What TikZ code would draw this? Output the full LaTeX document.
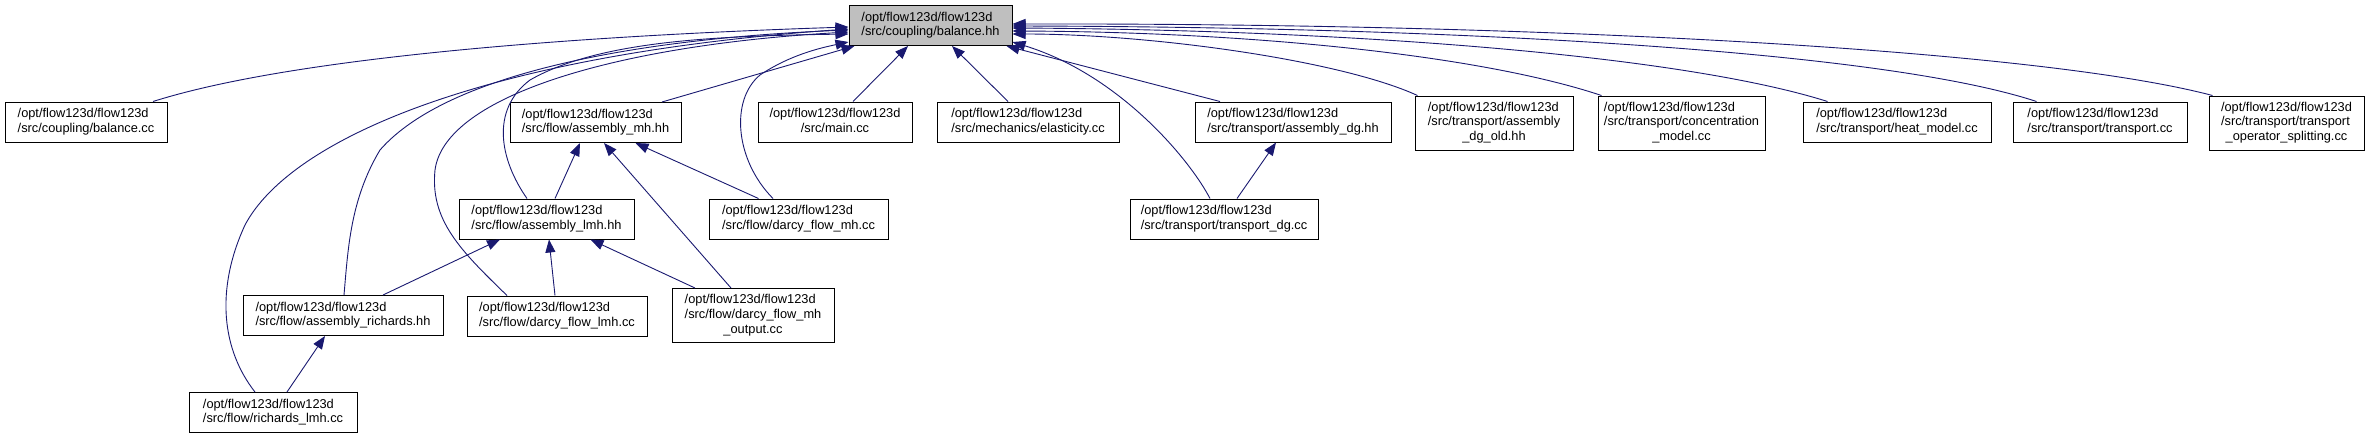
\documentclass[tikz,border=0pt]{standalone}
\usepackage{fontspec}
\setmainfont{Liberation Sans}
\usetikzlibrary{arrows.meta,calc}
\definecolor{edgeblue}{HTML}{191970}
\definecolor{focusgray}{HTML}{BFBFBF}
\newcommand{\flabii}[2]{\begin{tabular}{@{}l@{}}#1\\\multicolumn{1}{@{}c@{}}{#2}\end{tabular}}
\newcommand{\flabiii}[3]{\begin{tabular}{@{}l@{}}#1\\#2\\\multicolumn{1}{@{}c@{}}{#3}\end{tabular}}
\newcommand{\fp}{/opt/flow123d/flow123d}
\begin{document}
\begin{tikzpicture}[x=1pt,y=-1pt,
  filebox/.style={draw=black, line width=1pt, fill=white, inner sep=0pt,
    font=\fontsize{12.8}{14.6}\selectfont, minimum height=40pt},
  tallbox/.style={filebox, minimum height=54pt},
  dep/.style={draw=edgeblue, line width=0.9pt, -{Triangle[length=13pt,width=10pt]}}]
\useasboundingbox (0,0) rectangle (2369,439);
% nodes
\node[filebox, fill=focusgray, minimum width=163] (bhh) at (930.5,25.5) {\flabii{\fp}{/src/coupling/balance.hh}};
\node[filebox, minimum width=162] (bcc) at (86,122) {\flabii{\fp}{/src/coupling/balance.cc}};
\node[filebox, minimum width=171] (amh) at (595.5,122.5) {\flabii{\fp}{/src/flow/assembly\_mh.hh}};
\node[filebox, minimum width=154] (main) at (835,122) {\flabii{\fp}{/src/main.cc}};
\node[filebox, minimum width=182] (elas) at (1028,122) {\flabii{\fp}{/src/mechanics/elasticity.cc}};
\node[filebox, minimum width=196] (adg) at (1293,122) {\flabii{\fp}{/src/transport/assembly\_dg.hh}};
\node[tallbox, minimum width=158] (dgold) at (1494,123) {\flabiii{\fp}{/src/transport/assembly}{\_dg\_old.hh}};
\node[tallbox, minimum width=167] (conc) at (1681.5,123) {\flabiii{\fp}{/src/transport/concentration}{\_model.cc}};
\node[filebox, minimum width=188] (heat) at (1897,122) {\flabii{\fp}{/src/transport/heat\_model.cc}};
\node[filebox, minimum width=174] (trans) at (2100,122) {\flabii{\fp}{/src/transport/transport.cc}};
\node[tallbox, minimum width=155] (tos) at (2286.5,123) {\flabiii{\fp}{/src/transport/transport}{\_operator\_splitting.cc}};
\node[filebox, minimum width=175] (almh) at (546.5,219) {\flabii{\fp}{/src/flow/assembly\_lmh.hh}};
\node[filebox, minimum width=179] (dfmh) at (798.5,219) {\flabii{\fp}{/src/flow/darcy\_flow\_mh.cc}};
\node[filebox, minimum width=188] (tdg) at (1224,219) {\flabii{\fp}{/src/transport/transport\_dg.cc}};
\node[filebox, minimum width=200] (arich) at (343,315.5) {\flabii{\fp}{/src/flow/assembly\_richards.hh}};
\node[filebox, minimum width=180] (dflmh) at (557,316) {\flabii{\fp}{/src/flow/darcy\_flow\_lmh.cc}};
\node[tallbox, minimum width=162] (dfmho) at (753,315.5) {\flabiii{\fp}{/src/flow/darcy\_flow\_mh}{\_output.cc}};
\node[filebox, minimum width=168] (rlmh) at (273,412.5) {\flabii{\fp}{/src/flow/richards\_lmh.cc}};
% edges into balance.hh (left side)
\draw[dep] ($(bcc.north)+(67,0)$) .. controls (300,55) and (600,35) .. ($(bhh.west)+(0,1.5)$);
\draw[dep] ($(rlmh.north)+(-18,0)$) .. controls (222,350) and (215,290) .. (245,225)
  .. controls (290,140) and (480,55) .. ($(bhh.west)+(0,3.5)$);
\draw[dep] ($(arich.north)+(1,0)$) .. controls (348,250) and (350,200) .. (380,150)
  .. controls (450,70) and (650,38) .. ($(bhh.west)+(0,4.5)$);
\draw[dep] ($(dflmh.north)+(-50,0)$) .. controls (460,250) and (430,220) .. (435,170)
  .. controls (445,95) and (620,45) .. ($(bhh.west)+(0,6.5)$);
\draw[dep] ($(almh.north)+(-19.5,0)$) .. controls (500,160) and (490,110) .. (530,80)
  .. controls (600,40) and (720,36) .. ($(bhh.west)+(0,8.5)$);
\draw[dep] ($(dfmh.north)+(-25.5,0)$) .. controls (735,160) and (730,100) .. (760,75)
  .. controls (790,55) and (820,48) .. ($(bhh.west)+(0,16.5)$);
% straight edges into balance.hh
\draw[dep] ($(amh.north)+(66.5,0)$) -- ($(bhh.south west)+(6,0)$);
\draw[dep] ($(main.north)+(18,0)$) -- ($(bhh.south)+(-22.5,0)$);
\draw[dep] ($(elas.north)+(-20,0)$) -- ($(bhh.south)+(21.5,0)$);
\draw[dep] ($(adg.north)+(-73,0)$) -- ($(bhh.south east)+(-6,0)$);
\draw[dep] ($(tdg.north)+(-14,0)$) .. controls (1190,160) and (1120,75) .. ($(bhh.east)+(0,16.5)$);
% edges into balance.hh (right side)
\draw[dep] ($(dgold.north west)+(3,0)$) .. controls (1340,60) and (1150,34) .. ($(bhh.east)+(0,8.5)$);
\draw[dep] ($(conc.north west)+(4,0)$) .. controls (1480,55) and (1250,32) .. ($(bhh.east)+(0,5.5)$);
\draw[dep] ($(heat.north west)+(25,0)$) .. controls (1680,55) and (1350,30) .. ($(bhh.east)+(0,2.5)$);
\draw[dep] ($(trans.north west)+(24,0)$) .. controls (1880,50) and (1450,27) .. ($(bhh.east)+(0,0.5)$);
\draw[dep] ($(tos.north west)+(4,0)$) .. controls (2040,50) and (1550,23) .. ($(bhh.east)+(0,-1.5)$);
% other edges
\draw[dep] ($(almh.north)+(8.5,0)$) -- ($(amh.south)+(-15.5,0)$);
\draw[dep] ($(dfmh.north)+(-40,0)$) -- ($(amh.south)+(40,0)$);
\draw[dep] ($(dfmho.north)+(-22,0)$) -- ($(amh.south)+(8.5,0)$);
\draw[dep] ($(arich.north)+(40,0)$) -- ($(almh.south)+(-46.5,0)$);
\draw[dep] ($(dflmh.north)+(-2,0)$) -- ($(almh.south)+(2.5,0)$);
\draw[dep] ($(dfmho.north)+(-58,0)$) -- ($(almh.south)+(44,0)$);
\draw[dep] ($(rlmh.north)+(14,0)$) -- ($(arich.south)+(-18,0)$);
\draw[dep] ($(tdg.north)+(13,0)$) -- ($(adg.south)+(-17,0)$);
\end{tikzpicture}
\end{document}
